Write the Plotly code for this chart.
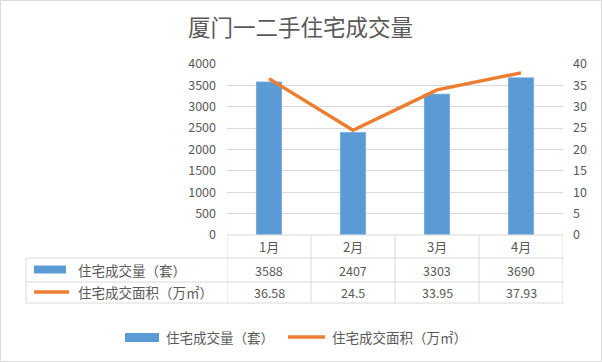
import plotly.graph_objects as go

# ---- data ----
months = ["1月", "2月", "3月", "4月"]
units_name = "住宅成交量（套）"
area_name = "住宅成交面积（万㎡）"
units = [3588, 2407, 3303, 3690]
area = [36.58, 24.5, 33.95, 37.93]
area_labels = ["36.58", "24.5", "33.95", "37.93"]
title = "厦门一二手住宅成交量"

BLUE = "#5B9BD5"
ORANGE = "#ED7D31"
GRID = "#D9D9D9"
TXT = "#595959"
FONT = "Noto Sans CJK SC"

W, H = 602, 362
L, R, T, B = 227, 39, 64, 127
PW, PH = W - L - R, H - T - B
BASE = H - B


def px(x):
    return (x - L) / PW


def py(y):
    return (BASE - y) / PH


fig = go.Figure()
fig.add_trace(go.Bar(x=months, y=units, name=units_name, marker_color=BLUE,
                     width=0.31, yaxis="y", showlegend=False))
fig.add_trace(go.Scatter(x=months, y=area, name=area_name, mode="lines",
                         line=dict(color=ORANGE, width=3.5), yaxis="y2",
                         showlegend=False))

shapes = []
ann = []

# chart border
shapes.append(dict(type="rect", xref="paper", yref="paper",
                   x0=px(0.5), x1=px(601.5), y0=py(0.5), y1=py(361.5),
                   line=dict(color=GRID, width=1), fillcolor="rgba(0,0,0,0)", layer="below"))

# table lines
row_y = [235, 258, 282, 303]
for i, yy in enumerate(row_y):
    if i == 0:
        shapes.append(dict(type="line", xref="x", yref="paper", x0=-0.5, x1=len(months) - 0.5,
                           y0=py(yy), y1=py(yy), line=dict(color=GRID, width=1)))
    else:
        shapes.append(dict(type="line", xref="paper", yref="paper", x0=px(26), x1=px(564),
                           y0=py(yy), y1=py(yy), line=dict(color=GRID, width=1)))
for k in range(len(months) + 1):
    shapes.append(dict(type="line", xref="x", yref="paper", x0=k - 0.5, x1=k - 0.5,
                       y0=py(235), y1=py(303), line=dict(color=GRID, width=1)))
shapes.append(dict(type="line", xref="paper", yref="paper", x0=px(26), x1=px(26),
                   y0=py(258), y1=py(303), line=dict(color=GRID, width=1)))

# table keys
shapes.append(dict(type="rect", xref="paper", yref="paper", x0=px(34), x1=px(66),
                   y0=py(273.5), y1=py(265.5), fillcolor=BLUE, line=dict(width=0)))
shapes.append(dict(type="line", xref="paper", yref="paper", x0=px(34), x1=px(69),
                   y0=py(292), y1=py(292), line=dict(color=ORANGE, width=3.5)))

ann.append(dict(text=units_name, xref="paper", yref="paper", x=px(76), y=py(269.5),
                xanchor="left", yanchor="middle", showarrow=False,
                font=dict(size=13.5, color=TXT, family=FONT)))
ann.append(dict(text=area_name, xref="paper", yref="paper", x=px(76), y=py(292),
                xanchor="left", yanchor="middle", showarrow=False,
                font=dict(size=13.5, color=TXT, family=FONT)))

for i, m in enumerate(months):
    ann.append(dict(text=m, xref="x", yref="paper", x=m, y=py(246.5), xanchor="center",
                    yanchor="middle", showarrow=False, font=dict(size=13, color=TXT, family=FONT)))
    ann.append(dict(text=str(units[i]), xref="x", yref="paper", x=m, y=py(270), xanchor="center",
                    yanchor="middle", showarrow=False, font=dict(size=12.5, color=TXT, family=FONT)))
    ann.append(dict(text=area_labels[i], xref="x", yref="paper", x=m, y=py(292), xanchor="center",
                    yanchor="middle", showarrow=False, font=dict(size=12.5, color=TXT, family=FONT)))

# bottom legend
shapes.append(dict(type="rect", xref="paper", yref="paper", x0=px(125), x1=px(159),
                   y0=py(342), y1=py(333), fillcolor=BLUE, line=dict(width=0)))
shapes.append(dict(type="line", xref="paper", yref="paper", x0=px(288), x1=px(325),
                   y0=py(337), y1=py(337), line=dict(color=ORANGE, width=3.5)))
ann.append(dict(text=units_name, xref="paper", yref="paper", x=px(164), y=py(337),
                xanchor="left", yanchor="middle", showarrow=False,
                font=dict(size=13.5, color=TXT, family=FONT)))
ann.append(dict(text=area_name, xref="paper", yref="paper", x=px(330), y=py(337),
                xanchor="left", yanchor="middle", showarrow=False,
                font=dict(size=13.5, color=TXT, family=FONT)))

# title
ann.append(dict(text=title, xref="paper", yref="paper", x=px(300), y=py(26),
                xanchor="center", yanchor="middle", showarrow=False,
                font=dict(size=22.5, color=TXT, family=FONT)))

fig.update_layout(
    width=W, height=H,
    margin=dict(l=L, r=R, t=T, b=B, pad=0),
    paper_bgcolor="white", plot_bgcolor="white",
    font=dict(family=FONT, color=TXT, size=12),
    xaxis=dict(type="category", showticklabels=False, showgrid=False, zeroline=False,
               showline=False, ticks="", range=[-0.5, len(months) - 0.5]),
    yaxis=dict(range=[0, 4000], dtick=500, showgrid=True, gridcolor=GRID, gridwidth=1,
               zeroline=False, showline=False, ticks="", ticklabelstandoff=10,
               tickfont=dict(size=12.5, color=TXT, family=FONT)),
    yaxis2=dict(range=[0, 40], dtick=5, overlaying="y", side="right", showgrid=False,
                zeroline=False, showline=False, ticks="", ticklabelstandoff=9,
                tickfont=dict(size=12.5, color=TXT, family=FONT)),
    showlegend=False,
    shapes=shapes,
    annotations=ann,
)

fig.write_html("out.html", config={"displayModeBar": False},
               post_script="document.body.style.margin='0';document.body.style.overflow='hidden';")
